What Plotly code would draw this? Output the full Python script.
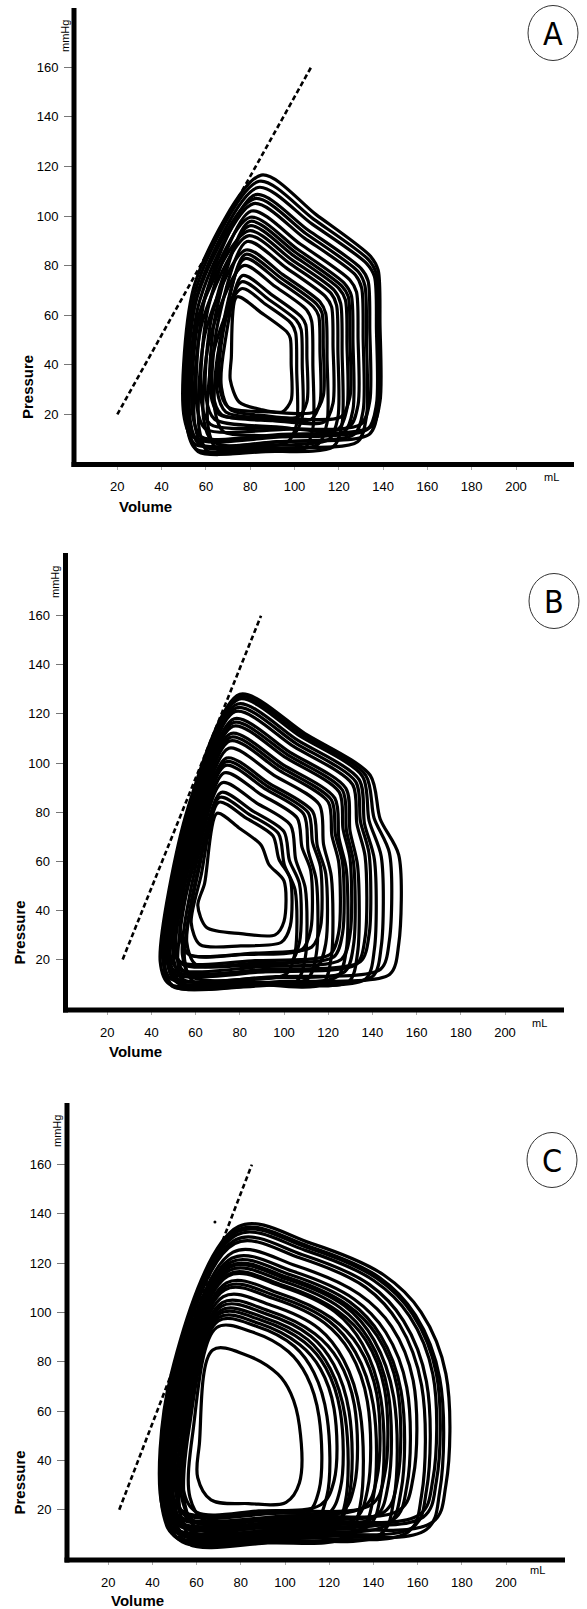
import plotly.graph_objects as go

W, H = 587, 1609

# ---------------- data ----------------
# Each loop: peak (top-left), shoulder (top-right), right-side volume,
# end-diastolic pressure (bottom right), left volume, minimum pressure (bottom left)

# Panel A
A_rv   = [138.6, 137.8, 137, 134, 132.5, 131, 128.7, 126.4, 125, 123.7, 121.5, 119.6, 117.4, 114.7, 113, 111.5, 108.3, 105.6, 103.5, 101, 98.5]
A_sh_v = [134.5, 133.5, 132.5, 130, 128.8, 127.5, 125, 122.5, 121.3, 120, 118.2, 116.5, 114, 111.5, 110, 108.5, 105.5, 103, 100.8, 98.5, 96.5]
A_sh_p = [83.6, 82.3, 80.9, 78.9, 77.5, 76.2, 74.2, 72.9, 71.8, 70.8, 69.8, 68.8, 67.5, 65.4, 64.5, 63.4, 62.1, 59.4, 58, 56.7, 53.3]
A_pk_v = [85, 84, 83.5, 82.5, 82, 81.5, 80.5, 80, 79.8, 79.5, 79.2, 79, 78.5, 78, 77.8, 77.5, 77, 76.5, 76.2, 76, 74]
A_pk_p = [116.5, 114, 111.5, 108.6, 107, 105, 102, 99.5, 97.8, 96, 94, 92, 89.7, 86.3, 84.5, 82.8, 80, 76, 73.5, 70.7, 67.4]
A_pe   = [15, 12, 14, 16, 9, 12, 15, 13, 19, 14, 7, 10, 17, 8, 21, 18, 6, 19, 12, 9, 21]
A_vl   = [50, 51, 52, 56, 51.5, 53, 58, 54, 62, 60, 52.5, 55, 63, 57, 66, 65, 59, 67, 64, 61, 71]
A_pm   = [11, 8, 10, 14, 6, 8, 16, 11, 20, 18, 5, 7, 20, 5, 23, 21, 9, 22, 13, 6, 25]
A_espvr_v = [20, 107.5]
A_espvr_p = [20, 160]

# Panel B
B_rv   = [151.9, 147.7, 144, 140.9, 138.5, 136.7, 133.3, 131.5, 129.9, 128.2, 126.5, 124.8, 121.4, 118.9, 116.5, 114.6, 112.1, 109.6, 107, 105, 102.8, 100]
B_sh_v = [139, 137, 135.5, 134, 132.5, 131, 128, 126.5, 125, 123, 121.5, 120, 116, 113, 111, 109, 106, 103, 100, 97.5, 95, 89.6]
B_sh_p = [95, 95, 94.6, 93.2, 92.3, 91.3, 89.7, 88.9, 88.1, 85.7, 84.9, 84.1, 83, 80.2, 79.7, 79.1, 77.5, 74.6, 72, 71.2, 70.3, 66.6]
B_pk_v = [80, 79.8, 79.5, 79, 78.6, 78, 77.5, 77.2, 77, 76, 75.8, 75.5, 75, 74, 73.8, 73.5, 73, 72, 71.5, 71, 70.5, 69.7]
B_pk_p = [128, 127, 126, 124, 122.5, 121, 118, 116.5, 115, 112, 110.5, 109, 106, 102, 100.5, 99, 96, 92, 88, 86, 84, 79.5]
B_pe   = [14, 16, 13, 12, 19, 18, 11, 15, 20, 13, 21, 22, 10, 17, 25, 12, 24, 11, 19, 14, 27, 30]
B_vl   = [44, 45, 45.5, 46, 47, 46.5, 47, 48, 48, 48.5, 50, 49, 50, 51, 53, 52, 53, 54, 56, 55, 58, 61]
B_pm   = [10, 12, 9, 9, 15, 14, 11, 12, 16, 10, 18, 19, 12, 15, 22, 9, 22, 13, 18, 11, 26, 33]
B_espvr_v = [27, 89.6]
B_espvr_p = [20, 160]

# Panel C
C_rv   = [172.8, 170, 168.5, 166.9, 164, 161.8, 158, 155.1, 152.5, 150.8, 149.2, 146.6, 145, 143.3, 141.5, 139.9, 137.3, 134, 131.4, 129, 127.2, 125, 122.2, 119, 115.4, 106.5]
C_sh_v = [144.7, 142.6, 141.5, 140.3, 138.1, 136.5, 133.6, 131.3, 129.4, 128.1, 126.9, 125, 123.8, 122.6, 121.1, 119.9, 117.9, 115.4, 113.5, 111.7, 110.3, 108.7, 106.6, 104.2, 101.5, 96.8]
C_sh_p = [115.2, 114.3, 113.9, 112.9, 111.4, 110.2, 107.4, 105.4, 104.2, 103.1, 102.7, 101.9, 100.6, 100.3, 97.7, 96.5, 95.7, 93.4, 91.4, 90.4, 89, 88, 87, 86.3, 84.2, 75]
C_pk_v = [79, 78.6, 78.5, 78.2, 77.7, 77.3, 76.5, 75.9, 75.5, 75.2, 75, 74.7, 74.3, 74.2, 73.5, 73.1, 72.8, 72.1, 71.6, 71.2, 70.8, 70.5, 70.1, 69.8, 69.1, 67.3]
C_pk_p = [134.9, 133.5, 132.8, 131.5, 129.5, 128, 124.5, 122, 120.4, 119, 118.3, 117, 115.5, 114.8, 112, 110.5, 109.2, 106.4, 104, 102.5, 100.8, 99.5, 98, 96.6, 93.9, 84.8]
C_pe   = [15, 12, 17, 18, 13, 11, 20, 16, 14, 19, 10, 17, 22, 13, 21, 12, 16, 9, 19, 14, 11, 18, 22, 15, 18, 23]
C_vl   = [44.5, 45, 45.2, 45.5, 46, 46, 46.5, 47, 47, 47.5, 47.5, 48, 48.5, 48.5, 49, 49.5, 50, 50.5, 51, 52, 53, 53.5, 54, 55, 57, 60.5]
C_pm   = [12, 9, 14, 15, 10, 8, 17, 13, 11, 16, 7, 14, 19, 10, 18, 9, 13, 6, 16, 11, 8, 15, 19, 12, 16, 24]
C_espvr_v = [25, 85]
C_espvr_p = [20, 160]
C_dot_v = [68.3]
C_dot_p = [136.7]

x_ticks = [20, 40, 60, 80, 100, 120, 140, 160, 180, 200]
y_ticks = [20, 40, 60, 80, 100, 120, 140, 160]
panel_labels = ["A", "B", "C"]

# ---------------- layout geometry (pixels) ----------------
GEOM = {
    "A": dict(x0=74, x1=574, ytop=8, yax=464.5, v0=73, kv=2.215, p0=464, kp=2.48,
              mmhg=(65, 36), press=(27, 387), vol=(145, 506), ml=(551, 477), circ=(553, 33)),
    "B": dict(x0=65.5, x1=564, ytop=553, yax=1010, v0=63, kv=2.21, p0=1008.5, kp=2.455,
              mmhg=(55, 582), press=(18.5, 932), vol=(135, 1051), ml=(539, 1023), circ=(554, 601)),
    "C": dict(x0=67, x1=565, ytop=1103, yax=1560, v0=64, kv=2.21, p0=1559, kp=2.465,
              mmhg=(57, 1131), press=(18.5, 1482), vol=(137, 1600), ml=(537, 1570), circ=(552, 1160)),
}
SHAPE = {
    "A": dict(bow=0.5, c1=0.8, c2=0.08, a=0.15, b=0.63, r=4, sag=1.0, sm=0.8),
    "B": dict(bow=0.5, c1=0.35, c2=0.22, a=0.35, b=0.64, r=4, sag=1.0, sm=0.8),
    "C": dict(bow=3.0, c1=0.6, c2=0.15, a=0.11, b=0.55, r=6, sag=1.0, sm=1.0),
}
DATA = {
    "A": (A_pk_v, A_pk_p, A_sh_v, A_sh_p, A_rv, A_pe, A_vl, A_pm, A_espvr_v, A_espvr_p),
    "B": (B_pk_v, B_pk_p, B_sh_v, B_sh_p, B_rv, B_pe, B_vl, B_pm, B_espvr_v, B_espvr_p),
    "C": (C_pk_v, C_pk_p, C_sh_v, C_sh_p, C_rv, C_pe, C_vl, C_pm, C_espvr_v, C_espvr_p),
}


def outline(pkv, pkp, shv, shp, rv, pe, vl, pm, t):
    """Corner points of one loop, starting and ending at the bottom middle."""
    pts = [
        (0.5 * (rv + vl), 0.5 * (pe + pm) - t["sag"]),
        (vl + t["r"], pm),
        (vl, pm + 9),
        (vl + t["a"] * (pkv - vl), t["b"] * pkp),
        (pkv, pkp),
        (pkv + 0.5 * (shv - pkv), 0.5 * (pkp + shp) + t["bow"]),
        (shv, shp),
        (shv + t["c1"] * (rv - shv), shp - t["c2"] * (shp - pe)),
        (rv, shp - 0.4 * (shp - pe)),
        (rv, pe + 0.15 * (shp - pe)),
        (rv - t["r"], pe),
    ]
    pts.append(pts[0])
    return [p[0] for p in pts], [p[1] for p in pts]


fig = go.Figure()
FONT = "Liberation Sans, Arial, Helvetica, sans-serif"
shapes, annotations = [], []

for i, key in enumerate(["A", "B", "C"]):
    g = GEOM[key]
    t = SHAPE[key]
    pkv, pkp, shv, shp, rv, pe, vl, pm, ev, ep = DATA[key]
    xa = "x" if i == 0 else f"x{i + 1}"
    ya = "y" if i == 0 else f"y{i + 1}"

    for j in range(len(pkv)):
        xs, ys = outline(pkv[j], pkp[j], shv[j], shp[j], rv[j], pe[j], vl[j], pm[j], t)
        fig.add_trace(go.Scatter(x=xs, y=ys, mode="lines", xaxis=xa, yaxis=ya,
                                 line=dict(color="black", width=3.2, shape="spline", smoothing=t["sm"]),
                                 hoverinfo="skip", showlegend=False))
    fig.add_trace(go.Scatter(x=ev, y=ep, mode="lines", xaxis=xa, yaxis=ya,
                             line=dict(color="black", width=2.6, dash="5px,3px"),
                             hoverinfo="skip", showlegend=False))
    if key == "C":
        fig.add_trace(go.Scatter(x=C_dot_v, y=C_dot_p, mode="markers", xaxis=xa, yaxis=ya,
                                 marker=dict(color="black", size=3), hoverinfo="skip", showlegend=False))

    xr = [(g["x0"] - g["v0"]) / g["kv"], (g["x1"] - g["v0"]) / g["kv"]]
    yr = [(g["p0"] - g["yax"]) / g["kp"], (g["p0"] - g["ytop"]) / g["kp"]]
    xd = [g["x0"] / W, g["x1"] / W]
    yd = [1 - g["yax"] / H, 1 - g["ytop"] / H]
    xname = "xaxis" if i == 0 else f"xaxis{i + 1}"
    yname = "yaxis" if i == 0 else f"yaxis{i + 1}"
    fig.update_layout(**{
        xname: dict(domain=xd, range=xr, anchor=ya, showgrid=False, zeroline=False, showline=False,
                    tickmode="array", tickvals=x_ticks, ticktext=[str(v) for v in x_ticks],
                    ticks="outside", ticklen=4, tickwidth=1, tickcolor="#aaaaaa",
                    ticklabelstandoff=6, automargin=False,
                    tickfont=dict(family=FONT, size=13, color="black")),
        yname: dict(domain=yd, range=yr, anchor=xa, showgrid=False, zeroline=False, showline=False,
                    tickmode="array", tickvals=y_ticks, ticktext=[str(v) for v in y_ticks],
                    ticks="outside", ticklen=9, tickwidth=1, tickcolor="#777777",
                    ticklabelstandoff=3, automargin=False,
                    tickfont=dict(family=FONT, size=13, color="black")),
    })

    # axis lines
    shapes.append(dict(type="line", xref="paper", yref="paper",
                       x0=g["x0"] / W, x1=g["x0"] / W, y0=1 - g["ytop"] / H, y1=1 - (g["yax"] + 2.5) / H,
                       line=dict(color="black", width=5)))
    shapes.append(dict(type="line", xref="paper", yref="paper",
                       x0=(g["x0"] - 2.5) / W, x1=g["x1"] / W, y0=1 - g["yax"] / H, y1=1 - g["yax"] / H,
                       line=dict(color="black", width=5)))
    # circle around the panel letter
    cx, cy = g["circ"]
    shapes.append(dict(type="circle", xref="paper", yref="paper",
                       x0=(cx - 25) / W, x1=(cx + 25) / W, y0=1 - (cy + 27.5) / H, y1=1 - (cy - 27.5) / H,
                       line=dict(color="#333333", width=1)))

    def ann(txt, pos, size, bold=False, angle=0, family=FONT):
        annotations.append(dict(text=f"<b>{txt}</b>" if bold else txt, x=pos[0] / W, y=1 - pos[1] / H,
                                xref="paper", yref="paper", showarrow=False, textangle=angle,
                                xanchor="center", yanchor="middle",
                                font=dict(family=family, size=size, color="black")))

    ann("mmHg", g["mmhg"], 11, angle=-90)
    ann("Pressure", g["press"], 15, bold=True, angle=-90)
    ann("Volume", g["vol"], 15, bold=True)
    ann("mL", g["ml"], 11)
    ann(panel_labels[i], (cx, cy + 1), 32,
        family="Liberation Sans Narrow, Arial Narrow, DejaVu Sans Condensed, Liberation Sans")

fig.update_layout(width=W, height=H, margin=dict(l=0, r=0, t=0, b=0),
                  paper_bgcolor="white", plot_bgcolor="white",
                  shapes=shapes, annotations=annotations, showlegend=False)

fig.write_html("out.html", config={"displayModeBar": False, "staticPlot": True},
               post_script="document.body.style.margin='0';"
                           "document.documentElement.style.overflow='hidden';")
